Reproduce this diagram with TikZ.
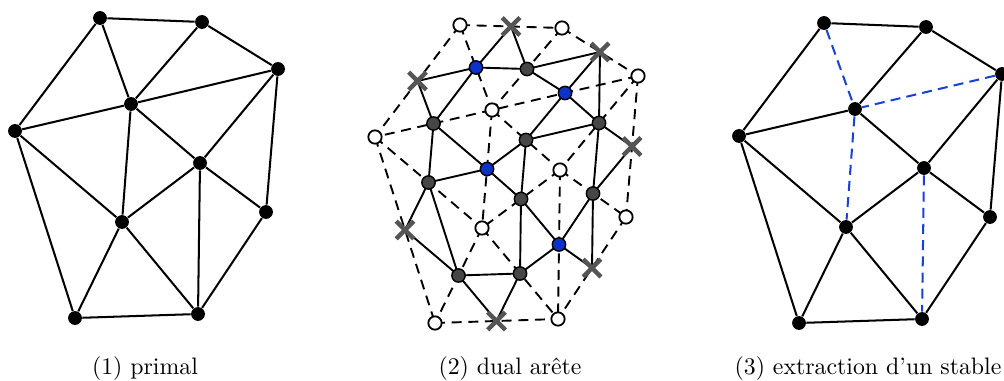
\documentclass[tikz,border=0pt]{standalone}
\usetikzlibrary{calc,shapes.misc}
\definecolor{bluenode}{RGB}{12,50,200}
\definecolor{bluedash}{RGB}{25,65,215}
\definecolor{darknode}{RGB}{70,70,70}
\definecolor{crossgray}{RGB}{85,85,85}
\tikzset{
 pv/.style={circle,fill=black,inner sep=0pt,minimum size=5.8pt},
 pe/.style={line width=0.85pt},
 de/.style={line width=0.8pt,dash pattern=on 4.2pt off 2.8pt},
 me/.style={line width=0.8pt},
 wv/.style={circle,draw=black,fill=white,line width=0.75pt,inner sep=0pt,minimum size=5.6pt},
 dv/.style={circle,draw=black,fill=darknode,line width=0.6pt,inner sep=0pt,minimum size=5.6pt},
 bv/.style={circle,draw=black,fill=bluenode,line width=0.6pt,inner sep=0pt,minimum size=5.6pt},
 xv/.style={cross out,draw=crossgray,line width=1.85pt,inner sep=0pt,minimum size=5.6pt},
 se/.style={line width=0.85pt,draw=bluedash,dash pattern=on 4.2pt off 2.6pt},
 captext/.style={inner sep=0pt,font=\normalsize}
}
\begin{document}
\begin{tikzpicture}[x=0.42pt,y=-0.42pt]
\useasboundingbox (0,0) rectangle (1004,381);
% ---------- panel 1 : primal ----------
\foreach \n/\x/\y in {a/100/18,b/202/22,c/278/69,d/131/104,e/15/131,f/200/163,g/266/212,h/122/222,i/75/318,j/198/314}
  {\node[pv] (\n1) at (\x,\y) {};}
\draw[pe] (a1)--(b1) (a1)--(e1) (a1)--(d1) (b1)--(d1) (b1)--(c1) (c1)--(d1) (c1)--(f1) (c1)--(g1)
  (d1)--(e1) (d1)--(f1) (d1)--(h1) (e1)--(h1) (e1)--(i1) (f1)--(h1) (f1)--(g1) (f1)--(j1)
  (g1)--(j1) (h1)--(i1) (h1)--(j1) (i1)--(j1);
% ---------- panel 2 : dual arete ----------
\foreach \n/\x/\y in {a/460/25,b/562/28,c/638/76,d/492/110,e/375/137,f/560/170,g/626/217,h/482/228,i/435/323,j/558/319}
  {\coordinate (\n2) at (\x,\y);}
\draw[de] (a2)--(b2) (a2)--(e2) (a2)--(d2) (b2)--(d2) (b2)--(c2) (c2)--(d2) (c2)--(f2) (c2)--(g2)
  (d2)--(e2) (d2)--(f2) (d2)--(h2) (e2)--(h2) (e2)--(i2) (f2)--(h2) (f2)--(g2) (f2)--(j2)
  (g2)--(j2) (h2)--(i2) (h2)--(j2) (i2)--(j2);
\foreach \p/\q in {a/b,a/e,a/d,b/d,b/c,c/d,c/f,c/g,d/e,d/f,d/h,e/h,e/i,f/h,f/g,f/j,g/j,h/i,h/j,i/j}
  {\coordinate (m\p\q) at ($(\p2)!0.5!(\q2)$);}
\draw[me] (mab)--(mad)--(mbd)--cycle
  (mbc)--(mcd)--(mbd)--cycle
  (mad)--(mde)--(mae)--cycle
  (mcd)--(mdf)--(mcf)--cycle
  (mcf)--(mfg)--(mcg)--cycle
  (mde)--(meh)--(mdh)--cycle
  (mdf)--(mfh)--(mdh)--cycle
  (meh)--(mhi)--(mei)--cycle
  (mfh)--(mhj)--(mfj)--cycle
  (mfg)--(mgj)--(mfj)--cycle
  (mhi)--(mij)--(mhj)--cycle
  (mbc)--(mcf);
\foreach \n in {a,b,c,d,e,f,g,h,i,j} {\node[wv] (v\n) at (\n2) {};}
\foreach \m in {ab,bc,ae,cg,ei,gj,ij} {\node[xv] (x\m) at (m\m) {};}
\foreach \m in {bd,de,df,cf,eh,fh,fg,hi,hj} {\node[dv] (n\m) at (m\m) {};}
\foreach \m in {ad,cd,dh,fj} {\node[bv] (n\m) at (m\m) {};}
% ---------- panel 3 : extraction d'un stable ----------
\foreach \n/\x/\y in {a/100/18,b/202/22,c/278/69,d/131/104,e/15/131,f/200/163,g/266/212,h/122/222,i/75/318,j/198/314}
  {\node[pv] (\n3) at (\x+724,\y+5) {};}
\draw[pe] (a3)--(b3) (a3)--(e3) (b3)--(d3) (b3)--(c3) (c3)--(f3) (c3)--(g3)
  (d3)--(e3) (d3)--(f3) (e3)--(h3) (e3)--(i3) (f3)--(h3) (f3)--(g3)
  (g3)--(j3) (h3)--(i3) (h3)--(j3) (i3)--(j3);
\draw[se] (a3)--(d3) (c3)--(d3) (d3)--(h3) (f3)--(j3);
% ---------- captions ----------
\node[captext] (l1) at (145,369) {(1) primal};
\node[captext] (l2) at (510,369) {(2) dual arête};
\node[captext] (l3) at (868,369) {(3) extraction d’un stable};
\end{tikzpicture}
\end{document}
